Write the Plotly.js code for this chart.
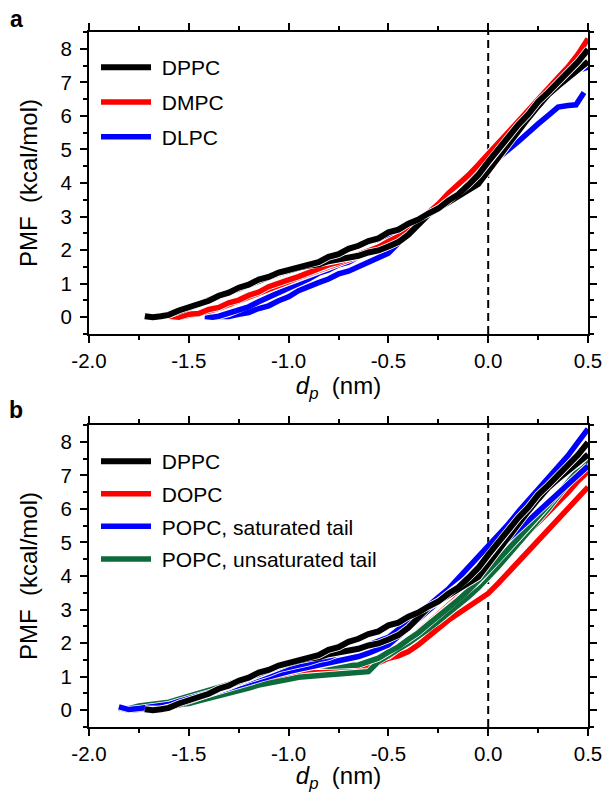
<!DOCTYPE html>
<html>
<head>
<meta charset="utf-8">
<script src="https://cdn.plot.ly/plotly-3.0.1.min.js"></script>
<style>html,body{margin:0;padding:0;background:#fff;}#chart{width:605px;height:793px;}</style>
</head>
<body>
<div id="chart"></div>
<script>
// ---------- Data ----------
const xTickVals = [-2.0, -1.5, -1.0, -0.5, 0.0, 0.5];
const xTickText = ["-2.0", "-1.5", "-1.0", "-0.5", "0.0", "0.5"];

// Panel a
const dppcX = [-1.72,-1.68,-1.64,-1.60,-1.55,-1.50,-1.45,-1.40,-1.35,-1.30,-1.25,-1.20,-1.15,-1.10,-1.05,-1.00,-0.95,-0.90,-0.85,-0.80,-0.75,-0.70,-0.65,-0.60,-0.55,-0.50,-0.45,-0.40,-0.35,-0.30,-0.25,-0.20,-0.15,-0.10,-0.05,0.00,0.05,0.10,0.15,0.20,0.25,0.30,0.35,0.40,0.45,0.50];
const dppcY1 = [0.03,0.00,0.03,0.07,0.20,0.29,0.42,0.49,0.64,0.73,0.88,0.97,1.12,1.20,1.33,1.41,1.51,1.55,1.64,1.80,1.88,2.04,2.13,2.27,2.35,2.53,2.61,2.79,2.91,3.09,3.24,3.47,3.66,3.94,4.24,4.63,5.01,5.34,5.73,6.04,6.42,6.70,7.01,7.27,7.61,7.98];
const dppcY2 = [0.03,0.00,0.02,0.08,0.17,0.28,0.39,0.49,0.60,0.72,0.84,0.96,1.08,1.20,1.30,1.40,1.48,1.54,1.57,1.67,1.71,1.79,1.83,1.93,1.99,2.11,2.24,2.46,2.74,3.06,3.24,3.43,3.59,3.79,3.97,4.36,4.77,5.16,5.54,5.93,6.29,6.63,6.89,7.13,7.34,7.62];

const dmpcX = [-1.60,-1.55,-1.50,-1.45,-1.40,-1.35,-1.30,-1.25,-1.20,-1.15,-1.10,-1.05,-1.00,-0.95,-0.90,-0.85,-0.80,-0.75,-0.70,-0.65,-0.60,-0.55,-0.50,-0.45,-0.40,-0.35,-0.30,-0.25,-0.20,-0.15,-0.10,-0.05,0.00,0.05,0.10,0.15,0.20,0.25,0.30,0.35,0.40,0.45,0.50];
const dmpcY1 = [0.03,0.00,0.09,0.11,0.23,0.29,0.43,0.51,0.65,0.75,0.91,0.99,1.11,1.21,1.33,1.44,1.56,1.64,1.76,1.84,1.99,2.09,2.26,2.41,2.63,2.84,3.11,3.37,3.69,3.94,4.23,4.54,4.89,5.19,5.51,5.84,6.21,6.54,6.86,7.14,7.46,7.84,8.30];
const dmpcY2 = [0.03,0.00,0.06,0.10,0.18,0.26,0.37,0.47,0.58,0.70,0.84,0.95,1.06,1.18,1.28,1.40,1.50,1.60,1.70,1.80,1.92,2.04,2.18,2.35,2.55,2.78,3.02,3.28,3.55,3.82,4.10,4.42,4.75,5.08,5.40,5.75,6.10,6.45,6.75,7.02,7.30,7.60,7.92];

const dlpcX1 = [-1.42,-1.38,-1.35,-1.30,-1.25,-1.20,-1.15,-1.10,-1.05,-1.00,-0.95,-0.90,-0.85,-0.80,-0.75,-0.70,-0.65,-0.60,-0.55,-0.50,-0.45,-0.40,-0.35,-0.30,-0.25,-0.20,-0.15,-0.10,-0.05,0.00,0.05,0.10,0.15,0.20,0.25,0.30,0.35,0.40,0.45,0.50];
const dlpcY1 = [0.02,0.00,0.03,0.11,0.23,0.31,0.46,0.59,0.73,0.87,1.01,1.14,1.31,1.41,1.56,1.64,1.81,1.94,2.16,2.34,2.56,2.74,2.93,3.09,3.36,3.59,3.86,4.09,4.39,4.69,5.06,5.39,5.76,6.09,6.46,6.74,7.01,7.19,7.36,7.45];
const dlpcX2 = [-1.40,-1.35,-1.30,-1.25,-1.20,-1.15,-1.10,-1.05,-1.00,-0.95,-0.90,-0.85,-0.80,-0.75,-0.70,-0.65,-0.60,-0.55,-0.50,-0.45,-0.40,-0.35,-0.30,-0.25,-0.20,-0.15,-0.10,-0.05,0.00,0.05,0.10,0.15,0.20,0.25,0.30,0.35,0.40,0.44,0.48];
const dlpcY2 = [0.02,0.00,0.02,0.09,0.14,0.26,0.34,0.49,0.61,0.79,0.89,1.03,1.14,1.29,1.37,1.51,1.61,1.79,1.91,2.21,2.49,2.79,3.04,3.31,3.54,3.81,4.01,4.26,4.49,4.79,4.99,5.23,5.47,5.76,6.01,6.26,6.31,6.33,6.70];

// Panel b
const bX = [-1.85,-1.80,-1.75,-1.70,-1.65,-1.60,-1.55,-1.50,-1.45,-1.40,-1.35,-1.30,-1.25,-1.20,-1.15,-1.10,-1.05,-1.00,-0.95,-0.90,-0.85,-0.80,-0.75,-0.70,-0.65,-0.60,-0.55,-0.50,-0.45,-0.40,-0.35,-0.30,-0.25,-0.20,-0.15,-0.10,-0.05,0.00,0.05,0.10,0.15,0.20,0.25,0.30,0.35,0.40,0.45,0.50];
const dopcY1 = [0.08,0.02,0.03,0.06,0.09,0.11,0.19,0.24,0.33,0.39,0.49,0.55,0.65,0.71,0.81,0.87,0.97,1.01,1.09,1.11,1.16,1.17,1.21,1.21,1.31,1.37,1.49,1.61,1.83,2.04,2.33,2.59,2.89,3.14,3.41,3.64,3.91,4.11,4.41,4.67,4.99,5.27,5.59,5.87,6.19,6.49,6.83,7.12];
const dopcY2 = [0.08,0.02,0.02,0.05,0.07,0.10,0.15,0.22,0.29,0.36,0.44,0.52,0.60,0.68,0.76,0.83,0.90,0.95,1.00,1.05,1.08,1.10,1.12,1.15,1.20,1.28,1.42,1.55,1.62,1.75,1.95,2.20,2.45,2.68,2.88,3.08,3.25,3.48,3.78,4.10,4.42,4.75,5.05,5.38,5.70,6.02,6.35,6.65];
const popcSatY1 = [0.10,0.02,0.05,0.08,0.13,0.17,0.26,0.34,0.43,0.49,0.61,0.69,0.81,0.89,1.01,1.09,1.21,1.27,1.36,1.41,1.51,1.57,1.69,1.77,1.89,1.94,2.06,2.17,2.41,2.61,2.86,3.09,3.36,3.61,3.93,4.21,4.53,4.84,5.21,5.54,5.91,6.24,6.61,6.94,7.29,7.59,7.99,8.38];
const popcSatY2 = [0.08,0.00,0.03,0.06,0.10,0.15,0.22,0.30,0.38,0.46,0.55,0.64,0.73,0.82,0.91,1.00,1.08,1.15,1.22,1.28,1.33,1.38,1.44,1.50,1.60,1.70,1.82,1.95,2.20,2.45,2.70,2.95,3.20,3.45,3.70,3.95,4.25,4.55,4.82,5.10,5.38,5.65,5.92,6.20,6.48,6.75,7.00,7.28];
const popcUnsatY1 = [0.05,0.05,0.13,0.17,0.23,0.24,0.33,0.41,0.51,0.57,0.69,0.77,0.89,0.97,1.09,1.14,1.21,1.24,1.29,1.29,1.33,1.31,1.30,1.33,1.35,1.43,1.55,1.73,1.89,2.11,2.31,2.56,2.79,3.06,3.29,3.56,3.84,4.16,4.47,4.81,5.11,5.46,5.77,6.11,6.44,6.81,7.14,7.50];
const popcUnsatY2 = [0.05,0.02,0.05,0.08,0.10,0.12,0.15,0.20,0.28,0.35,0.42,0.50,0.58,0.66,0.75,0.82,0.88,0.92,0.98,1.02,1.05,1.06,1.08,1.10,1.12,1.15,1.45,1.65,1.82,2.00,2.20,2.42,2.65,2.88,3.12,3.38,3.65,3.95,4.28,4.62,4.95,5.30,5.65,6.00,6.38,6.75,7.10,7.40];

// ---------- Styling ----------
const FONT = '"Liberation Sans", Arial, sans-serif';
const BLACK = '#000000', RED = '#ff0000', BLUE = '#0000ff', GREEN = '#0d6a3b';
const LW = 5.5;

const traces = [];
function addCurve(x, y, color, width, xa, ya, name, legendId, show, rank) {
  traces.push({x: x, y: y, type: 'scatter', mode: 'lines', xaxis: xa, yaxis: ya,
    line: {color: '#ffffff', width: width + 1.6, shape: 'linear'}, hoverinfo: 'skip',
    showlegend: false, legend: legendId, legendgroup: name});
  traces.push({x: x, y: y, type: 'scatter', mode: 'lines', xaxis: xa, yaxis: ya, name: '\u00a0' + name,
    line: {color: color, width: width, shape: 'linear'},
    showlegend: show, legend: legendId, legendgroup: name, legendrank: rank});
}

// Panel a (draw order: DLPC, DMPC, DPPC)
addCurve(dlpcX2, dlpcY2, BLUE, LW, 'x', 'y', 'DLPC', 'legend', false, 3);
addCurve(dlpcX1, dlpcY1, BLUE, LW, 'x', 'y', 'DLPC', 'legend', true, 3);
addCurve(dmpcX, dmpcY2, RED, LW, 'x', 'y', 'DMPC', 'legend', false, 2);
addCurve(dmpcX, dmpcY1, RED, LW, 'x', 'y', 'DMPC', 'legend', true, 2);
addCurve(dppcX, dppcY2, BLACK, LW + 0.5, 'x', 'y', 'DPPC', 'legend', false, 1);
addCurve(dppcX, dppcY1, BLACK, LW + 0.5, 'x', 'y', 'DPPC', 'legend', true, 1);

// Panel b (draw order: DOPC, POPC unsat, POPC sat, DPPC)
addCurve(bX, dopcY2, RED, LW, 'x2', 'y2', 'DOPC', 'legend2', false, 2);
addCurve(bX, dopcY1, RED, LW, 'x2', 'y2', 'DOPC', 'legend2', true, 2);
addCurve(bX, popcUnsatY2, GREEN, LW, 'x2', 'y2', 'POPC, unsaturated tail', 'legend2', false, 4);
addCurve(bX, popcUnsatY1, GREEN, LW, 'x2', 'y2', 'POPC, unsaturated tail', 'legend2', true, 4);
addCurve(bX, popcSatY2, BLUE, LW, 'x2', 'y2', 'POPC, saturated tail', 'legend2', false, 3);
addCurve(bX, popcSatY1, BLUE, LW, 'x2', 'y2', 'POPC, saturated tail', 'legend2', true, 3);
addCurve(dppcX, dppcY2, BLACK, LW + 0.5, 'x2', 'y2', 'DPPC', 'legend2', false, 1);
addCurve(dppcX, dppcY1, BLACK, LW + 0.5, 'x2', 'y2', 'DPPC', 'legend2', true, 1);

function xAxis(domain, anchor) {
  return {
    domain: domain, anchor: anchor, range: [-2, 0.5], tickmode: 'array',
    tickvals: xTickVals, ticktext: xTickText,
    ticks: 'outside', ticklen: 7, tickwidth: 2, tickcolor: '#000',
    showline: true, linewidth: 2, linecolor: '#000', mirror: 'allticks',
    showgrid: false, zeroline: false,
    tickfont: {family: FONT, size: 20.5, color: '#000'},
    minor: {tickmode: 'linear', tick0: 0, dtick: 0.25, ticks: 'outside', ticklen: 4, tickwidth: 2, tickcolor: '#000', showgrid: false},
    title: {text: '<i>d</i><sub><i>p</i></sub>\u00a0 (nm)', font: {family: FONT, size: 24, color: '#000'}, standoff: 5}
  };
}
function yAxis(domain, anchor) {
  return {
    domain: domain, anchor: anchor, range: [-0.5, 8.5], tickmode: 'linear', tick0: 0, dtick: 1,
    ticks: 'outside', ticklen: 7, tickwidth: 2, tickcolor: '#000',
    showline: true, linewidth: 2, linecolor: '#000', mirror: 'allticks',
    showgrid: false, zeroline: false, ticklabelstandoff: 4,
    tickfont: {family: FONT, size: 20.5, color: '#000'},
    minor: {tickmode: 'linear', tick0: 0, dtick: 0.5, ticks: 'outside', ticklen: 4, tickwidth: 2, tickcolor: '#000', showgrid: false},
    title: {text: 'PMF\u00a0 (kcal/mol)', font: {family: FONT, size: 24, color: '#000'}, standoff: 16}
  };
}

const xDom = [89 / 605, 588 / 605];
const layout = {
  width: 605, height: 793,
  margin: {l: 0, r: 0, t: 0, b: 0},
  paper_bgcolor: '#ffffff', plot_bgcolor: '#ffffff',
  font: {family: FONT, color: '#000'},
  xaxis: xAxis(xDom, 'y'),
  yaxis: yAxis([1 - 334 / 793, 1 - 32 / 793], 'x'),
  xaxis2: xAxis(xDom, 'y2'),
  yaxis2: yAxis([1 - 727 / 793, 1 - 425 / 793], 'x2'),
  legend: {x: 96 / 605, y: 1 - 47 / 793, xanchor: 'left', yanchor: 'top', bgcolor: 'rgba(0,0,0,0)',
    borderwidth: 0, itemwidth: 50, tracegroupgap: 4.5, traceorder: 'grouped',
    font: {family: FONT, size: 21, color: '#000'}},
  legend2: {x: 96 / 605, y: 1 - 441 / 793, xanchor: 'left', yanchor: 'top', bgcolor: 'rgba(0,0,0,0)',
    borderwidth: 0, itemwidth: 50, tracegroupgap: 2.3, traceorder: 'grouped',
    font: {family: FONT, size: 21, color: '#000'}},
  shapes: [
    {type: 'line', xref: 'x', yref: 'y domain', x0: 0, x1: 0, y0: 0, y1: 1, line: {color: '#000', width: 2, dash: '8px,5px'}, layer: 'below'},
    {type: 'line', xref: 'x2', yref: 'y2 domain', x0: 0, x1: 0, y0: 0, y1: 1, line: {color: '#000', width: 2, dash: '8px,5px'}, layer: 'below'}
  ],
  annotations: [
    {text: '<b>a</b>', xref: 'paper', yref: 'paper', x: 16 / 605, y: 1 - 19 / 793, xanchor: 'center', yanchor: 'middle', showarrow: false, font: {family: FONT, size: 23, color: '#000'}},
    {text: '<b>b</b>', xref: 'paper', yref: 'paper', x: 16 / 605, y: 1 - 410 / 793, xanchor: 'center', yanchor: 'middle', showarrow: false, font: {family: FONT, size: 23, color: '#000'}}
  ],
  showlegend: true
};

Plotly.newPlot('chart', traces, layout, {staticPlot: true, displayModeBar: false});
</script>
</body>
</html>
